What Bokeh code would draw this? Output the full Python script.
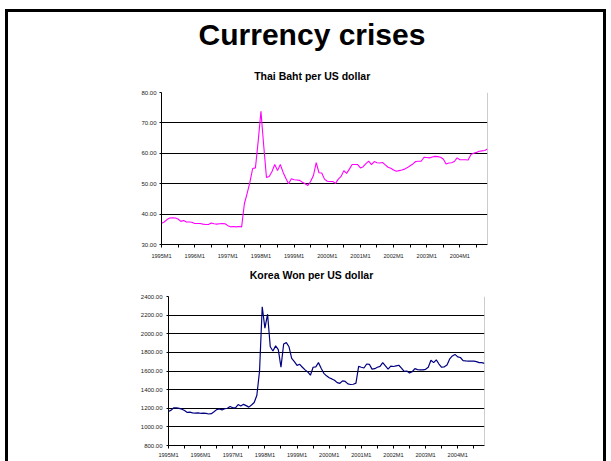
from bokeh.plotting import figure
from bokeh.layouts import column, row
from bokeh.models import (Range1d, FixedTicker, NumeralTickFormatter, Span,
                          Spacer)
from bokeh.core.properties import value
from bokeh.embed import file_html
from bokeh.resources import INLINE

# Monthly observations, 1995M1 .. 2004M11
months = list(range(119))
year_ticks = [0, 12, 24, 36, 48, 60, 72, 84, 96, 108]
half_year_ticks = [6, 18, 30, 42, 54, 66, 78, 90, 102, 114]
year_labels = ["1995M1", "1996M1", "1997M1", "1998M1", "1999M1",
               "2000M1", "2001M1", "2002M1", "2003M1", "2004M1"]

thai_baht = [
    37.0, 37.4, 38.2, 38.7, 38.8, 38.7, 38.4, 37.6, 37.9, 37.4,
    37.4, 37.3, 36.9, 36.9, 36.9, 36.7, 36.6, 36.6, 37.1, 36.8,
    36.7, 36.8, 36.9, 36.8, 36.2, 35.8, 35.9, 35.8, 35.9, 35.8,
    43.4, 46.8, 50.5, 55.0, 55.2, 64.0, 73.8, 62.5, 52.0, 52.4,
    54.0, 56.3, 54.3, 56.3, 53.8, 51.8, 50.0, 51.6, 51.3, 51.2,
    51.1, 50.5, 50.0, 49.4, 50.8, 52.7, 56.9, 53.6, 53.5, 51.5,
    50.8, 50.7, 50.7, 50.1, 51.5, 52.4, 54.3, 53.4, 54.8, 56.3,
    56.3, 56.3, 55.2, 55.6, 56.6, 57.4, 56.3, 57.3, 56.9, 56.8,
    57.0, 56.2, 55.4, 55.1, 54.5, 54.1, 54.3, 54.5, 54.8, 55.3,
    55.9, 56.5, 57.3, 57.4, 57.4, 58.7, 58.6, 58.5, 58.8, 59.0,
    58.9, 58.7, 58.1, 56.5, 56.8, 56.9, 57.3, 58.5, 57.9, 57.9,
    57.9, 57.8, 59.6, 60.0, 60.3, 60.7, 60.8, 60.9, 61.4,
]

korea_won = [
    1165, 1180, 1205, 1205, 1198, 1190, 1175, 1155, 1158, 1150,
    1148, 1150, 1146, 1148, 1145, 1138, 1142, 1162, 1185, 1192,
    1182, 1196, 1200, 1218, 1205, 1205, 1240, 1225, 1242, 1228,
    1212, 1235, 1262, 1340, 1600, 2290, 2060, 2210, 1860, 1815,
    1870, 1830, 1640, 1890, 1905, 1860, 1735, 1700, 1660, 1672,
    1640, 1612, 1590, 1555, 1640, 1645, 1690, 1630, 1575, 1548,
    1528, 1515, 1500, 1475, 1468, 1494, 1488, 1462, 1455, 1458,
    1470, 1650, 1640, 1632, 1675, 1672, 1620, 1625, 1640, 1650,
    1690, 1655, 1620, 1652, 1648, 1655, 1662, 1630, 1595, 1600,
    1578, 1592, 1625, 1615, 1612, 1612, 1618, 1640, 1715, 1690,
    1720, 1675, 1640, 1645, 1665, 1730, 1762, 1778, 1752, 1745,
    1712, 1708, 1707, 1707, 1706, 1700, 1690, 1690, 1682,
]

thai_ticks = [30, 40, 50, 60, 70, 80]
korea_ticks = [800, 1000, 1200, 1400, 1600, 1800, 2000, 2200, 2400]

FONT = "Liberation Sans"
INNER_W = 595          # width inside the slide border


def text_strip(height, texts):
    """A plain canvas (pixel coordinates, y downwards) holding heading text."""
    p = figure(width=INNER_W, height=height, output_backend="svg",
               toolbar_location=None, title=None,
               x_range=Range1d(0, INNER_W), y_range=Range1d(height, 0),
               x_axis_location=None, y_axis_location=None,
               min_border=0, min_border_left=0, min_border_right=0,
               min_border_top=0, min_border_bottom=0)
    p.outline_line_color = None
    p.xgrid.visible = False
    p.ygrid.visible = False
    for x, y, txt, size in texts:
        p.text(x=[x], y=[y], text=[txt], text_font=value(FONT),
               text_font_size=size, text_font_style="bold",
               text_align="center", text_baseline="alphabetic",
               text_color="black")
    return p


def make_chart(values, color, y_lo, y_hi, y_ticks, height, border,
               label_standoff_x, label_standoff_y, line_width):
    left, right, top, bottom = border
    p = figure(width=INNER_W, height=height, output_backend="svg",
               toolbar_location=None, title=None,
               x_range=Range1d(0, len(months) - 1),
               y_range=Range1d(y_lo, y_hi),
               min_border_left=left, min_border_right=right,
               min_border_top=top, min_border_bottom=bottom)
    p.background_fill_color = "white"
    p.border_fill_color = "white"
    p.outline_line_color = None

    p.line(months, values, line_color=color, line_width=line_width)

    # x axis: a label each January, plain tick marks at mid-year
    xa = p.xaxis[0]
    xa.ticker = FixedTicker(ticks=year_ticks, minor_ticks=half_year_ticks)
    xa.major_label_overrides = {t: lab for t, lab in zip(year_ticks, year_labels)}
    xa.axis_line_color = "black"
    xa.major_tick_line_color = "black"
    xa.minor_tick_line_color = "black"
    xa.major_tick_in = 0
    xa.major_tick_out = 3
    xa.minor_tick_in = 0
    xa.minor_tick_out = 3
    xa.major_label_standoff = label_standoff_x
    xa.major_label_text_font = FONT
    xa.major_label_text_font_size = "5.6px"
    xa.major_label_text_color = "#222222"

    ya = p.yaxis[0]
    ya.ticker = FixedTicker(ticks=y_ticks, minor_ticks=[])
    ya.formatter = NumeralTickFormatter(format="0.00")
    ya.axis_line_color = "black"
    ya.major_tick_line_color = "black"
    ya.major_tick_in = 0
    ya.major_tick_out = 2
    ya.minor_tick_out = 0
    ya.minor_tick_in = 0
    ya.major_label_standoff = label_standoff_y
    ya.major_label_text_font = FONT
    ya.major_label_text_font_size = "6px"
    ya.major_label_text_color = "#222222"

    p.xgrid.visible = False
    p.ygrid.ticker = FixedTicker(ticks=y_ticks)
    p.ygrid.grid_line_color = "black"
    p.ygrid.grid_line_width = 1

    # light grey right edge of the plot area
    p.add_layout(Span(location=len(months) - 1, dimension="height",
                      line_color="#9a9a9a", line_width=1))
    return p


# heading strip: slide title and the first panel's caption
head = text_strip(73, [(303.5, 22.0, "Currency crises", "30px"),
                       (303.7, 63.5, "Thai Baht per US dollar", "10.5px")])

# Thai baht panel
p1 = make_chart(thai_baht, "#ff00ff", 30, 80, thai_ticks, 177,
                (153, 116, 7, 18), 5, 3, 1.1)

# caption of the second panel
cap2 = text_strip(26, [(303.0, 12.0, "Korea Won per US dollar", "10.5px")])

# Korean won panel
p2 = make_chart(korea_won, "#000080", 800, 2400, korea_ticks, 173,
                (160, 119, 8, 16), 3, 4, 1.2)

# each piece sits in its own row so the column keeps every frame where
# its own borders put it
BLACK = {"background-color": "black"}
inner = column(Spacer(width=INNER_W, height=3, styles=BLACK),
               row(head), row(p1), row(cap2), row(p2), spacing=0)
body = row(Spacer(width=5, height=452),
           Spacer(width=3, height=452, styles=BLACK),
           inner,
           Spacer(width=3, height=452, styles=BLACK),
           Spacer(width=5, height=452), spacing=0)
page = column(Spacer(width=611, height=9), body, spacing=0)

open("out.html", "w").write(file_html(page, INLINE))
